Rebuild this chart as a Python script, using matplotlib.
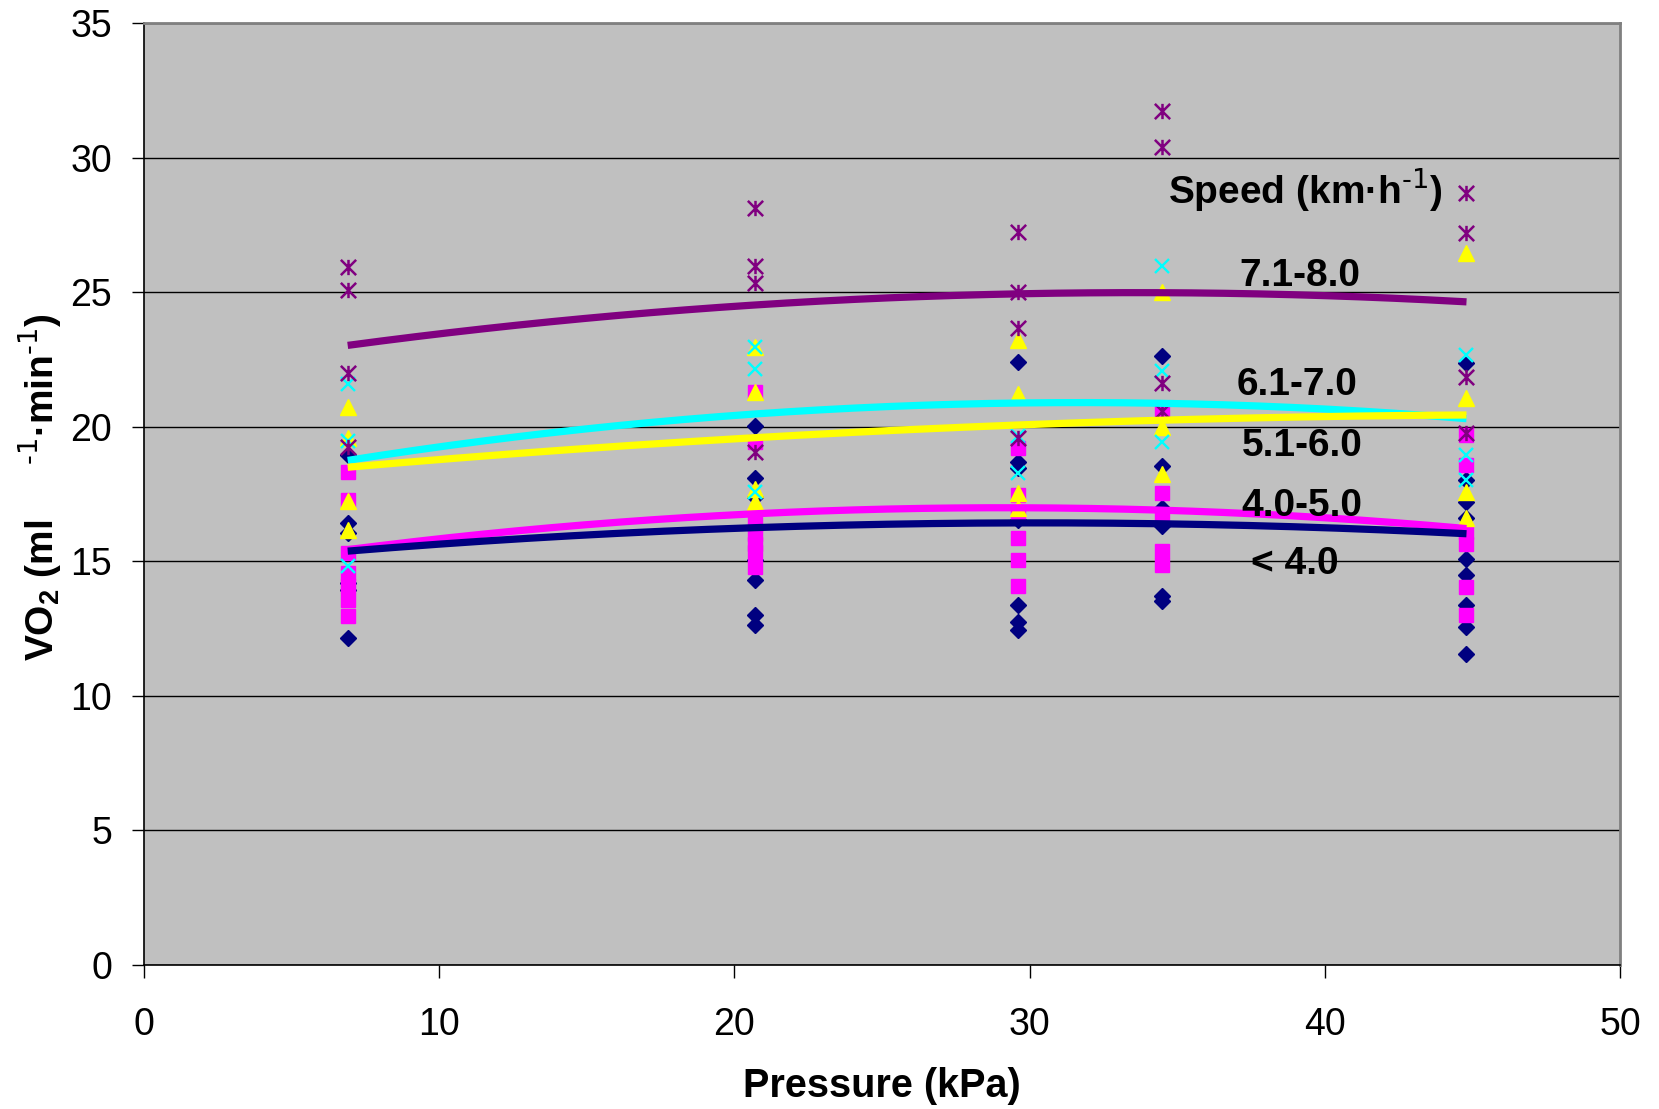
import matplotlib
matplotlib.use("Agg")
import matplotlib.pyplot as plt
import numpy as np
from matplotlib.path import Path

plt.rcParams["font.family"] = ["Liberation Sans", "DejaVu Sans"]
plt.rcParams["mathtext.default"] = "regular"

# pressure levels (kPa) where VO2 was measured
PRESSURE = [6.9, 20.7, 29.6, 34.5, 44.8]

# individual VO2 readings (ml kg-1 min-1) per speed band, one list per pressure level
VO2_LT4 = [
    [18.96, 16.42, 16.05, 14.2, 13.95, 12.15],
    [20.04, 18.08, 17.39, 15.04, 14.29, 12.99, 12.62],
    [22.41, 18.69, 18.47, 16.55, 13.36, 12.74, 12.43],
    [22.64, 18.55, 16.98, 16.3, 13.71, 13.52],
    [22.36, 18.01, 17.2, 16.59, 15.1, 14.48, 13.36, 12.56, 11.56],
]
VO2_4_5 = [
    [18.32, 17.29, 15.31, 14.57, 14.07, 13.58, 12.96],
    [21.3, 19.44, 16.4, 16.03, 15.66, 15.35, 14.79],
    [19.21, 17.48, 16.67, 15.87, 15.06, 14.07],
    [20.6, 17.55, 16.6, 15.4, 14.85],
    [19.69, 18.57, 16.09, 15.66, 14.04, 12.99],
]
VO2_5_6 = [
    [20.75, 19.58, 17.23, 16.18],
    [22.98, 21.3, 17.7, 17.2],
    [23.24, 21.2, 17.54, 16.98],
    [25.0, 20.0, 18.24],
    [26.45, 21.08, 17.57, 16.59],
]
VO2_6_7 = [
    [21.6, 19.46, 14.81],
    [22.98, 22.13, 17.58],
    [19.65, 18.28],
    [25.97, 22.08, 19.43],
    [22.67, 18.95, 18.01],
]
VO2_7_8 = [
    [25.95, 25.09, 21.99, 19.25],
    [28.13, 25.98, 25.33, 19.07],
    [27.23, 25.0, 23.65, 19.58],
    [31.74, 30.4, 21.64, 20.6],
    [28.68, 27.2, 21.85, 19.75],
]

# second-order trendline values at each pressure level
TREND_LT4 = [15.38, 16.24, 16.43, 16.4, 16.02]
TREND_4_5 = [15.43, 16.77, 17.0, 16.88, 16.22]
TREND_5_6 = [18.5, 19.57, 20.08, 20.25, 20.43]
TREND_6_7 = [18.75, 20.46, 20.91, 20.85, 20.3]
TREND_7_8 = [23.02, 24.53, 24.93, 24.98, 24.64]

SPEED_LABELS = ["< 4.0", "4.0-5.0", "5.1-6.0", "6.1-7.0", "7.1-8.0"]

# Excel-style asterisk: an x with a vertical bar through it
asterisk = Path(
    [(-0.5, -0.5), (0.5, 0.5), (-0.5, 0.5), (0.5, -0.5), (0, -0.5), (0, 0.5)],
    [Path.MOVETO, Path.LINETO, Path.MOVETO, Path.LINETO, Path.MOVETO, Path.LINETO],
)

series = [
    (VO2_LT4, TREND_LT4, "#000080", dict(marker="D", ms=7.8)),
    (VO2_4_5, TREND_4_5, "#FF00FF", dict(marker="s", ms=10)),
    (VO2_5_6, TREND_5_6, "#FFFF00", dict(marker="^", ms=11)),
    (VO2_6_7, TREND_6_7, "#00FFFF", dict(marker="x", ms=10, mew=1.7)),
    (VO2_7_8, TREND_7_8, "#800080", dict(marker=asterisk, ms=11, mew=1.8)),
]

W, H = 1659, 1109
fig = plt.figure(figsize=(W / 100, H / 100), dpi=100)
ax = fig.add_axes([144 / W, 1 - 965 / H, (1620 - 144) / W, (965 - 23) / H])
ax.set_facecolor("#C0C0C0")

for i, (vals, trend, color, mk) in enumerate(series):
    xs = [p for p, v in zip(PRESSURE, vals) for _ in v]
    ys = [y for v in vals for y in v]
    ax.plot(xs, ys, ls="none", color=color, mec=color, zorder=3 + i * 0.1, **mk)

# trendlines on top of the markers; yellow over cyan, navy over magenta
line_order = [4, 3, 2, 1, 0]
xfit = np.linspace(PRESSURE[0], PRESSURE[-1], 200)
for k, i in enumerate(line_order):
    _, trend, color, _ = series[i]
    coef = np.polyfit(PRESSURE, trend, 2)
    ax.plot(xfit, np.polyval(coef, xfit), color=color, lw=5.2,
            solid_capstyle="butt", zorder=5 + k * 0.1)

ax.set_xlim(0, 50)
ax.set_ylim(0, 35)
ax.set_xticks(range(0, 51, 10))
ax.set_yticks(range(0, 36, 5))
ax.yaxis.grid(True, color="black", lw=1.0)
ax.set_axisbelow(True)
ax.tick_params(axis="both", direction="out", length=9, width=1.0,
               labelsize=27, color="black")
ax.tick_params(axis="y", pad=14)
ax.tick_params(axis="x", pad=21)
for side in ("left", "bottom"):
    ax.spines[side].set_color("black")
    ax.spines[side].set_linewidth(1.2)
for side in ("top", "right"):
    ax.spines[side].set_color("#808080")
    ax.spines[side].set_linewidth(2.0)

# speed band annotations
txt = dict(fontsize=28, fontweight="bold", ha="center", va="baseline", zorder=6)
ax.text(39.33, 28.33, r"Speed (km·h$^{\text{-1}}$)", **txt)
label_pos = [(39.0, 14.54), (39.23, 16.7), (39.23, 18.93), (39.05, 21.16), (39.16, 25.24)]
for lab, (x, y) in zip(SPEED_LABELS, label_pos):
    ax.text(x, y, lab, **txt)

fig.text(882 / W, 1 - 1097 / H, "Pressure (kPa)", fontsize=28.5, fontweight="bold",
         ha="center", va="baseline")
fig.text(40 / W, 1 - 487 / H, r"VO$_2$ (ml     $^{\text{-1}}$·min$^{\text{-1}}$)",
         fontsize=28, fontweight="bold", rotation=90, ha="center", va="center")

fig.savefig("out.png", dpi=100)
